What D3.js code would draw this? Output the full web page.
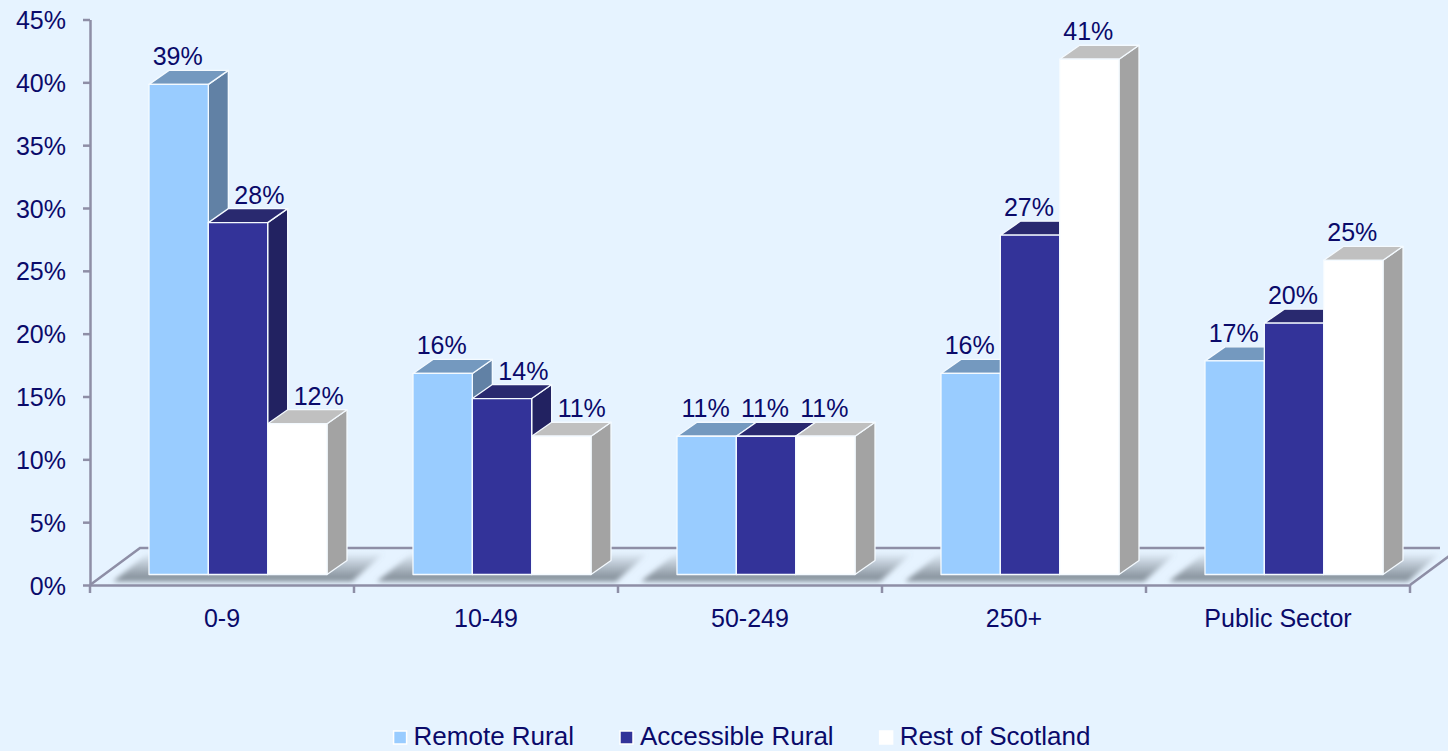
<!DOCTYPE html>
<html>
<head>
<meta charset="utf-8">
<script src="https://cdn.jsdelivr.net/npm/d3@7"></script>
<style>
  body { margin: 0; background: #E6F3FF; }
  svg { display: block; font-family: Arial, "Liberation Sans", sans-serif; }
</style>
</head>
<body>
<svg id="chart"></svg>
<script>
let categories = ["0-9", "10-49", "50-249", "250+", "Public Sector"];
let seriesNames = ["Remote Rural", "Accessible Rural", "Rest of Scotland"];
let remoteRural = [39, 16, 11, 16, 17];
let accessibleRural = [28, 14, 11, 27, 20];
let restOfScotland = [12, 11, 11, 41, 25];
let yTicks = [0, 5, 10, 15, 20, 25, 30, 35, 40, 45];

let series = [remoteRural, accessibleRural, restOfScotland];

// face colours: front, top, side
let colors = [
  {front: "#99CCFF", top: "#7499BF", side: "#6181A5"},
  {front: "#333399", top: "#29296F", side: "#222261"},
  {front: "#FFFFFF", top: "#C0C0C0", side: "#A3A3A3"}
];

let textColor = "#0A0A6A", axisColor = "#8E8EA6";

let width = 1448, height = 751;

let svg = d3.select("#chart").attr("width", width).attr("height", height);

svg.append("rect").attr("width", width).attr("height", height).attr("fill", "#E6F3FF");

let x = d3.scaleBand().domain(categories).range([90, 1410]);
let y = d3.scaleLinear().domain([0, 45]).range([585, 19.5]);

let depth = {x: 20, y: -14};       // bar depth
let floorDepth = {x: 50, y: -37};  // floor depth
let shift = {x: 16, y: -10.5};     // bars sit a bit back on the floor
let groupWidth = 178;
let xs = d3.scaleBand().domain(d3.range(series.length)).range([0, groupWidth]);

let defs = svg.append("defs");
let grad = defs.append("linearGradient").attr("id", "shadowGrad")
  .attr("x1", 0).attr("y1", 0).attr("x2", 0).attr("y2", 1);
grad.append("stop").attr("offset", 0).attr("stop-color", "#7A848E").attr("stop-opacity", 0);
grad.append("stop").attr("offset", 0.75).attr("stop-color", "#7A848E").attr("stop-opacity", 0.75);
grad.append("stop").attr("offset", 1).attr("stop-color", "#7A848E").attr("stop-opacity", 0.95);
defs.append("filter").attr("id", "blur").attr("x", "-20%").attr("y", "-50%").attr("width", "140%").attr("height", "200%")
  .append("feGaussianBlur").attr("stdDeviation", 2.5);

// floor
let y0 = y(0);
let floor = svg.append("g").attr("stroke", axisColor).attr("stroke-width", 2.5).attr("fill", "none");
floor.append("path").attr("d", d3.line()([
  [90, y0], [90 + floorDepth.x, y0 + floorDepth.y], [1440, y0 + floorDepth.y]
]));
floor.append("path").attr("d", d3.line()([
  [1410, y0], [1410 + floorDepth.x, y0 + floorDepth.y]
]));

// shadows under the groups
let gx = c => x(c) + x.bandwidth() / 2 - groupWidth / 2 + shift.x;
let base = y0 + shift.y;

svg.append("g").selectAll("polygon")
  .data(categories)
  .enter().append("polygon")
  .attr("points", c => {
    let a = gx(c), b = gx(c) + groupWidth;
    return [[a - 36, base + 7], [b + 25, base + 7], [b + 58, base - 22], [a, base - 22]].join(" ");
  })
  .attr("fill", "url(#shadowGrad)")
  .attr("filter", "url(#blur)");

// front edge of the floor with category ticks
let catAxis = svg.append("g").attr("stroke", axisColor).attr("stroke-width", 2.5);
catAxis.append("line").attr("x1", 90).attr("x2", 1410).attr("y1", y0 + 0.5).attr("y2", y0 + 0.5);
catAxis.selectAll("line.tick")
  .data(d3.range(categories.length + 1))
  .enter().append("line").attr("class", "tick")
  .attr("x1", i => x.range()[0] + i * x.step())
  .attr("x2", i => x.range()[0] + i * x.step())
  .attr("y1", y0).attr("y2", y0 + 8);

svg.append("g").selectAll("text")
  .data(categories)
  .enter().append("text")
  .attr("x", c => x(c) + x.bandwidth() / 2)
  .attr("y", 626.5)
  .attr("text-anchor", "middle")
  .attr("font-size", "25px")
  .attr("fill", textColor)
  .text(c => c);

// y axis
let yAxis = svg.append("g")
  .attr("transform", "translate(90,0)")
  .call(d3.axisLeft(y).tickValues(yTicks).tickFormat(d => d + "%").tickSize(7).tickSizeOuter(0).tickPadding(17));
yAxis.select(".domain").attr("stroke", axisColor).attr("stroke-width", 2.5);
yAxis.selectAll(".tick line").attr("stroke", axisColor).attr("stroke-width", 2.5);
yAxis.selectAll(".tick text").attr("font-size", "25px").attr("fill", textColor)
  .attr("font-family", "Arial, 'Liberation Sans', sans-serif").attr("dy", "0.36em");

// bars
let bars = [];
categories.forEach((c, i) => {
  series.forEach((s, j) => {
    let x0 = gx(c) + xs(j), x1 = x0 + xs.bandwidth();
    bars.push({c, i, j, v: s[i], x0, x1, top: y(s[i]) + shift.y, bot: base});
  });
});

let barG = svg.append("g").selectAll("g")
  .data(bars)
  .enter().append("g")
  .attr("stroke", "#F4FAFF").attr("stroke-width", 1.3).attr("stroke-linejoin", "round");

barG.append("polygon")
  .attr("points", d => [[d.x1, d.top], [d.x1 + depth.x, d.top + depth.y], [d.x1 + depth.x, d.bot + depth.y], [d.x1, d.bot]].join(" "))
  .attr("fill", d => colors[d.j].side);

barG.append("polygon")
  .attr("points", d => [[d.x0, d.top], [d.x1, d.top], [d.x1 + depth.x, d.top + depth.y], [d.x0 + depth.x, d.top + depth.y]].join(" "))
  .attr("fill", d => colors[d.j].top);

barG.append("rect")
  .attr("x", d => d.x0).attr("y", d => d.top)
  .attr("width", d => d.x1 - d.x0).attr("height", d => d.bot - d.top)
  .attr("fill", d => colors[d.j].front);

// value labels; pushed right when the taller bar on the left shows its side face
svg.append("g").selectAll("text")
  .data(bars)
  .enter().append("text")
  .attr("y", d => d.top - 19)
  .attr("font-size", "25px")
  .attr("fill", textColor)
  .text(d => d.v + "%")
  .attr("x", function(d) {
    let w = this.getComputedTextLength();
    let left = (d.x0 + d.x1) / 2 - 1 - w / 2;
    if (d.j > 0 && series[d.j - 1][d.i] > d.v) {
      left = Math.max(left, d.x0 + depth.x + 6);
    }
    return left;
  });

// legend
let legend = svg.append("g");
let items = legend.selectAll("g")
  .data(seriesNames)
  .enter().append("g");
items.append("rect")
  .attr("y", 731).attr("width", 13).attr("height", 13)
  .attr("fill", (d, j) => colors[j].front)
  .attr("stroke", "#FFFFFF").attr("stroke-width", 1.5);
items.append("text")
  .attr("x", 20).attr("y", 745)
  .attr("font-size", "26px")
  .attr("fill", textColor)
  .text(d => d);

let pos = 0;
items.each(function() {
  let w = d3.select(this).select("text").node().getComputedTextLength();
  d3.select(this).attr("data-x", pos);
  pos += 20 + w + 46;
});
let total = pos - 46;
let start = 742 - total / 2;
items.attr("transform", function() { return "translate(" + (start + +this.getAttribute("data-x")) + ",0)"; });
</script>
</body>
</html>
